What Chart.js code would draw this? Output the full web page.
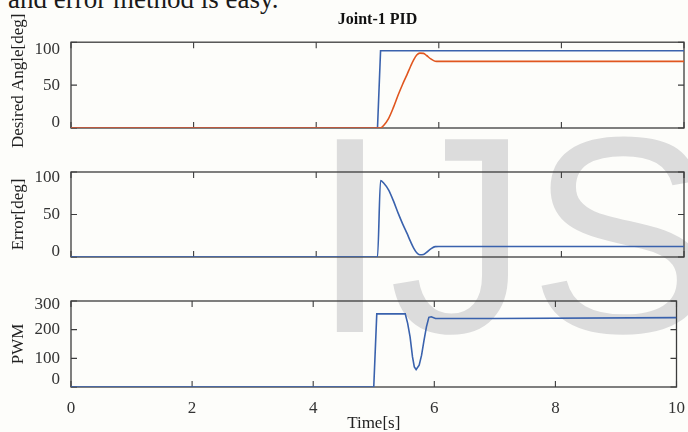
<!DOCTYPE html>
<html>
<head>
<meta charset="utf-8">
<script src="https://cdn.jsdelivr.net/npm/chart.js@4.4.1/dist/chart.umd.min.js"></script>
<style>
  html, body { margin: 0; padding: 0; }
  body { width: 688px; height: 432px; overflow: hidden; background: #fdfdfa; position: relative; }
  .panel { position: absolute; left: 0; width: 688px; }
  #p1 { top: 0; height: 160px; }
  #p2 { top: 150px; height: 120px; }
  #p3 { top: 290px; height: 142px; }
  .mark { position: absolute; left: 311px; top: 95px; font: 280px/280px 'Liberation Sans', sans-serif; color: #dcdcdc; white-space: nowrap; }
  .cut { position: absolute; left: 8px; top: -14px; font: 27px/27px 'Liberation Serif', serif; color: #1a1a1a; white-space: nowrap; }
</style>
</head>
<body>
<div class="cut">and error method is easy.</div>
<div class="mark">IJSER</div>
<div class="panel" id="p1"><canvas id="c1"></canvas></div>
<div class="panel" id="p2"><canvas id="c2"></canvas></div>
<div class="panel" id="p3"><canvas id="c3"></canvas></div>

<script>
// ─── Data ──────────────────────────────────────

const timeTicks  = [0, 2, 4, 6, 8, 10];
const angleTicks = [0, 50, 100];
const pwmTicks   = [0, 100, 200, 300];

// desired angle (step)
const tDesired = [0, 5.0, 5.05, 10];
const desired  = [0, 0, 90, 90];

// measured angle
const tActual = [0, 5.05, 5.1, 5.18, 5.26, 5.34, 5.41, 5.48, 5.54, 5.59, 5.64, 5.69, 5.75, 5.8, 5.87, 5.94, 6.0, 10];
const actual  = [0, 0, 3, 11, 24, 39, 51, 62, 72, 79.5, 85, 87.3, 87, 84.5, 80.5, 77.8, 77.6, 77.6];

// error
const tError = [0, 5.0, 5.05, 5.1, 5.18, 5.26, 5.34, 5.41, 5.48, 5.54, 5.59, 5.64, 5.69, 5.75, 5.8, 5.87, 5.94, 6.0, 10];
const error  = [0, 0, 90, 87, 79, 66, 51, 39, 28, 18, 10.5, 5, 2.7, 3, 5.5, 9.5, 12.2, 12.4, 12.4];

// PWM output
const tPwm = [0, 5.0, 5.05, 5.52, 5.56, 5.6, 5.64, 5.67, 5.7, 5.75, 5.79, 5.83, 5.87, 5.91, 5.95, 6.02, 7.0, 10];
const pwm  = [0, 0, 255, 255, 222, 175, 105, 70, 61, 76, 111, 163, 210, 243, 245, 239, 239, 242];

// ─── Style ─────────────────────────────────────

const BLUE   = '#3a62ad';
const ORANGE = '#e0561f';
const AXIS   = '#3c3c3c';
const SERIF  = "'Liberation Serif', 'Times New Roman', serif";

// box + inward tick marks, matlab style
const frame = {
  id: 'frame',
  beforeDatasetsDraw(chart) {
    const { ctx, chartArea: a, scales: { x, y } } = chart;
    ctx.save();
    ctx.strokeStyle = AXIS;
    ctx.lineWidth = 1.3;
    ctx.strokeRect(a.left, a.top, a.right - a.left, a.bottom - a.top);
    ctx.lineWidth = 1.1;
    ctx.beginPath();
    x.ticks.forEach(t => {
      const px = x.getPixelForValue(t.value);
      ctx.moveTo(px, a.bottom); ctx.lineTo(px, a.bottom - 6);
      ctx.moveTo(px, a.top);    ctx.lineTo(px, a.top + 6);
    });
    y.ticks.forEach(t => {
      const py = y.getPixelForValue(t.value);
      ctx.moveTo(a.left, py);  ctx.lineTo(a.left + 6, py);
      ctx.moveTo(a.right, py); ctx.lineTo(a.right - 6, py);
    });
    ctx.stroke();
    ctx.restore();
  }
};

function line(t, v, color, smooth) {
  return {
    data: t.map((x, i) => ({ x, y: v[i] })),
    borderColor: color,
    borderWidth: 1.6,
    pointRadius: 0,
    tension: 0,
    cubicInterpolationMode: smooth ? 'monotone' : 'default',
  };
}

function panel(id, cfg) {
  const yMax = cfg.yTicks[cfg.yTicks.length - 1];
  return new Chart(document.getElementById(id), {
    type: 'line',
    data: { datasets: cfg.series },
    options: {
      responsive: true,
      maintainAspectRatio: false,
      animation: false,
      layout: { autoPadding: false, padding: { left: 0, right: 4, top: cfg.padTop, bottom: cfg.padBottom } },
      plugins: {
        legend: { display: false },
        tooltip: { enabled: false },
        title: cfg.title ? {
          display: true, text: cfg.title, fullSize: false, color: '#111',
          font: { family: SERIF, size: 16, weight: 'bold', lineHeight: 1.2 },
          padding: { top: 10, bottom: 13 },
        } : { display: false },
      },
      scales: {
        x: {
          type: 'linear', min: 0, max: 10,
          afterBuildTicks: s => { s.ticks = timeTicks.map(v => ({ value: v })); },
          afterFit: s => { s.height = cfg.xHeight; },
          grid: { display: false },
          border: { display: false },
          ticks: { display: cfg.xLabels, autoSkip: false, maxRotation: 0, padding: 3, color: '#333', font: { family: SERIF, size: 17 } },
          title: {
            display: cfg.xLabels, text: 'Time[s]', color: '#222',
            font: { family: SERIF, size: 17, lineHeight: 1 }, padding: { top: 0, bottom: 0 },
          },
        },
        y: {
          type: 'linear', min: 0, max: yMax,
          afterBuildTicks: s => { s.ticks = cfg.yTicks.map(v => ({ value: v })); },
          afterFit: s => { s.width = 71; },
          grid: { display: false },
          border: { display: false },
          ticks: {
            autoSkip: false, padding: 3, color: '#333',
            // end labels sit inside the box, like the original
            callback: v => v === yMax ? ['', String(v)] : v === 0 ? [String(v), ''] : String(v),
            font: c => {
              const v = c.tick ? c.tick.value : null;
              let lh = 1.2;
              if (v === yMax) lh = cfg.shift[0] * 2 + 'px';
              else if (v === 0) lh = cfg.shift[1] * 2 + 'px';
              return { family: SERIF, size: 17, lineHeight: lh };
            },
          },
          title: {
            display: true, text: cfg.yTitle, color: '#222',
            font: { family: SERIF, size: 17, lineHeight: 1.2 }, padding: { top: 8, bottom: 0 },
          },
        },
      },
    },
    plugins: [frame],
  });
}

// first dataset is drawn on top, so the orange response goes first
panel('c1', {
  title: 'Joint-1 PID', yTitle: '  Desired Angle[deg]', yTicks: angleTicks,
  padTop: 0, padBottom: 32, xHeight: 0, xLabels: false, shift: [7, 5],
  series: [line(tActual, actual, ORANGE, true), line(tDesired, desired, BLUE, false)],
});

panel('c2', {
  yTitle: 'Error[deg]', yTicks: angleTicks,
  padTop: 22, padBottom: 13, xHeight: 0, xLabels: false, shift: [5.5, 5],
  series: [line(tError, error, BLUE, true)],
});

panel('c3', {
  yTitle: 'PWM', yTicks: pwmTicks,
  padTop: 11, padBottom: 0, xHeight: 45, xLabels: true, shift: [4, 7],
  series: [line(tPwm, pwm, BLUE, false)],
});
</script>
</body>
</html>
